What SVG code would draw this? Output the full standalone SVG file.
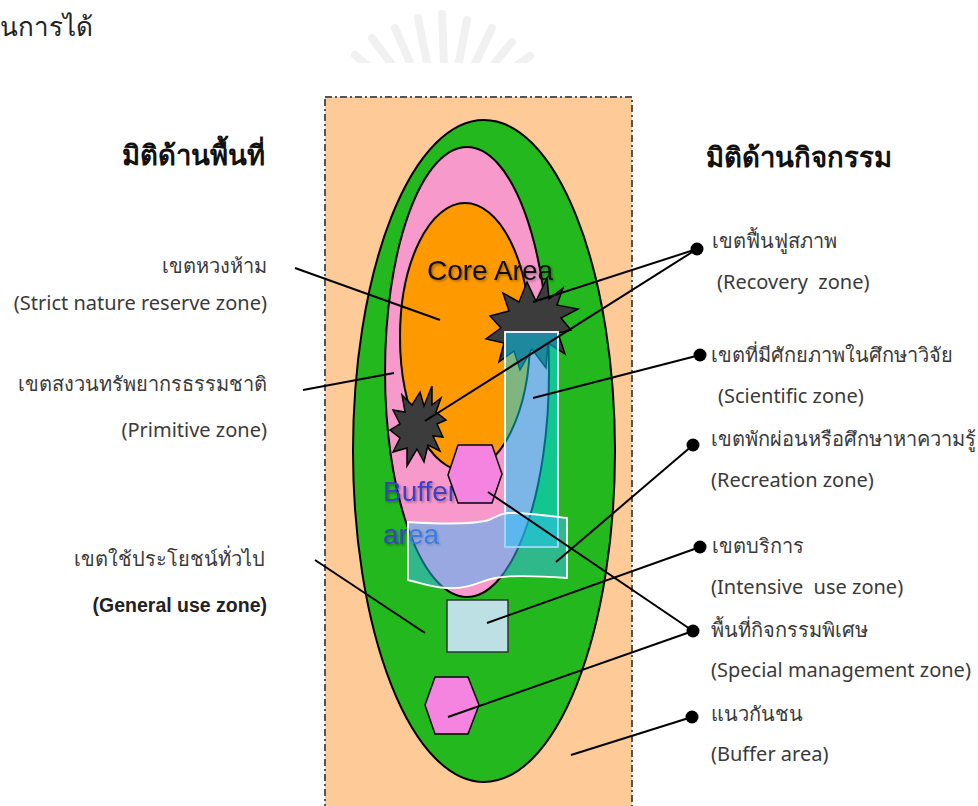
<svg xmlns="http://www.w3.org/2000/svg" width="978" height="806" viewBox="0 0 978 806">
<style>
.th{font-family:"Noto Sans","DejaVu Sans",sans-serif;font-size:20px;fill:#3a3a3a}
.en{font-family:"Noto Sans","DejaVu Sans",sans-serif;font-size:20px;fill:#3a3a3a}
.hd{font-family:"Noto Sans","DejaVu Sans",sans-serif;font-size:27.5px;font-weight:bold;fill:#111}
.big{font-family:"Liberation Sans",Arial,sans-serif;font-size:28px}
.ln{stroke:#000;stroke-width:2;fill:none}
.dot{fill:#000}
.edge{stroke:#000;stroke-width:1.5}
</style>
<defs>
<filter id="sh" x="-10%" y="-20%" width="130%" height="150%">
<feDropShadow dx="1.5" dy="1.5" stdDeviation="1.2" flood-color="#000" flood-opacity="0.35"/>
</filter>
<clipPath id="wm"><rect x="300" y="0" width="300" height="63"/></clipPath>
</defs>
<rect width="978" height="806" fill="#fff"/>
<g id="watermark" clip-path="url(#wm)" stroke="#f1f1f1" stroke-width="8" stroke-linecap="round">
<line x1="390" y1="85" x2="355" y2="55"/>
<line x1="402" y1="78" x2="372" y2="38"/>
<line x1="414" y1="72" x2="395" y2="28"/>
<line x1="428" y1="68" x2="418" y2="18"/>
<line x1="444" y1="66" x2="442" y2="14"/>
<line x1="458" y1="67" x2="467" y2="20"/>
<line x1="472" y1="70" x2="492" y2="28"/>
<line x1="484" y1="76" x2="512" y2="42"/>
<line x1="494" y1="82" x2="530" y2="56"/>
</g>
<text id="title-fragment" class="th" x="0" y="36" style="font-size:26px;fill:#222">นการได้</text>
<g id="buffer-area">
<rect x="325" y="97" width="307" height="740" fill="#fdca98" stroke="#555" stroke-width="2" stroke-dasharray="7 3 2 3"/>
</g>
<g id="general-use-zone"><ellipse cx="484" cy="451" rx="131" ry="331" fill="#22b81e" stroke="#000" stroke-width="2"/></g>
<g id="primitive-zone"><ellipse cx="467" cy="372" rx="82" ry="225" fill="#f899cc" stroke="#000" stroke-width="2"/></g>
<g id="core-area">
<ellipse cx="465" cy="337" rx="65" ry="134" fill="#ff9900" stroke="#000" stroke-width="2"/>
<text class="big" x="427" y="280" fill="#111" filter="url(#sh)">Core Area</text>
</g>
<g id="buffer-label"><text class="big" x="383" y="501" fill="#3b3fc4" filter="url(#sh)">Buffer</text><text class="big" x="383" y="544" fill="#3b3fc4" filter="url(#sh)">area</text></g>
<g id="recovery-star1"><polygon class="edge" fill="#3c3c3c" points="527,282 536,301 547,278 549,299 563,288 557,305 578,309 561,318 571,330 558,333 565,354 548,343 546,368 532,349 520,370 514,351 499,362 504,343 486,339 501,328 490,316 509,311 503,293 519,302"/></g>
<g id="recovery-star2"><polygon class="edge" fill="#3c3c3c" stroke-width="1" points="420,392 424,406 432,386 432,405 441,398 436,412 446,420 437,424 443,437 433,436 440,451 428,445 424,462 417,449 407,466 407,448 393,452 400,438 390,430 400,424 393,410 405,412 402,395 412,405"/></g>
<g id="scientific-zone"><rect x="505" y="332" width="53" height="215" fill="#00d4ff" fill-opacity="0.5" stroke="#fff" stroke-width="1.8"/></g>
<g id="recreation-zone"><path d="M408,522 C440,524 470,524 485,521 C495,519 498,513 510,513 C530,513 550,516 567,518 L567,578 C540,576 510,575 495,578 C480,581 470,589 447,588 C430,587 418,582 408,580 Z" fill="#3cb8f5" fill-opacity="0.5" stroke="#fff" stroke-width="1.8"/></g>
<g id="special-zone1"><polygon class="edge" fill="#f584e0" points="458,445 492,445 502,474 492,503 458,503 448,475"/></g>
<g id="intensive-zone"><rect x="447" y="600" width="61" height="52" fill="#bde0e4" stroke="#333" stroke-width="1.5"/></g>
<g id="special-zone2"><polygon class="edge" fill="#f584e0" points="435,677 468,677 479,705 468,734 435,734 425,705"/></g>
<g id="connectors">
<line class="ln" x1="295" y1="268" x2="440" y2="320"/>
<line class="ln" x1="303" y1="390" x2="394" y2="373"/>
<line class="ln" x1="315" y1="560" x2="425" y2="633"/>
<line class="ln" x1="697" y1="249" x2="533" y2="302"/>
<line class="ln" x1="697" y1="249" x2="425" y2="421"/>
<line class="ln" x1="700" y1="355" x2="533" y2="398"/>
<line class="ln" x1="693" y1="445" x2="556" y2="562"/>
<line class="ln" x1="700" y1="547" x2="487" y2="623"/>
<line class="ln" x1="693" y1="631" x2="488" y2="492"/>
<line class="ln" x1="693" y1="631" x2="448" y2="717"/>
<line class="ln" x1="692" y1="717" x2="571" y2="755"/>
<circle class="dot" cx="697" cy="249" r="6.5"/>
<circle class="dot" cx="700" cy="355" r="6.5"/>
<circle class="dot" cx="693" cy="445" r="6.5"/>
<circle class="dot" cx="700" cy="547" r="6.5"/>
<circle class="dot" cx="693" cy="631" r="6.5"/>
<circle class="dot" cx="692" cy="717" r="6.5"/>
</g>
<g id="headings">
<text class="hd" x="122" y="165">มิติด้านพื้นที่</text>
<text class="hd" x="706" y="167">มิติด้านกิจกรรม</text>
</g>
<g id="left-labels" text-anchor="end">
<text class="th" x="267" y="273">เขตหวงห้าม</text>
<text class="en" x="267" y="310">(Strict nature reserve zone)</text>
<text class="th" x="267" y="391">เขตสงวนทรัพยากรธรรมชาติ</text>
<text class="en" x="267" y="437">(Primitive zone)</text>
<text class="th" x="265" y="566">เขตใช้ประโยชน์ทั่วไป</text>
<text x="267" y="612" style="font-family:'Liberation Sans',Arial,sans-serif;font-size:19.5px;font-weight:bold;fill:#222">(General use zone)</text>
</g>
<g id="right-labels">
<text class="th" x="712" y="248">เขตฟื้นฟูสภาพ</text>
<text class="en" x="717" y="289" xml:space="preserve">(Recovery  zone)</text>
<text class="th" x="711" y="362">เขตที่มีศักยภาพในศึกษาวิจัย</text>
<text class="en" x="718" y="403">(Scientific zone)</text>
<text class="th" x="711" y="446">เขตพักผ่อนหรือศึกษาหาความรู้</text>
<text class="en" x="711" y="487">(Recreation zone)</text>
<text class="th" x="712" y="553">เขตบริการ</text>
<text class="en" x="711" y="594" xml:space="preserve">(Intensive  use zone)</text>
<text class="th" x="711" y="637">พื้นที่กิจกรรมพิเศษ</text>
<text class="en" x="711" y="677">(Special management zone)</text>
<text class="th" x="711" y="721">แนวกันชน</text>
<text class="en" x="711" y="761">(Buffer area)</text>
</g>
</svg>
